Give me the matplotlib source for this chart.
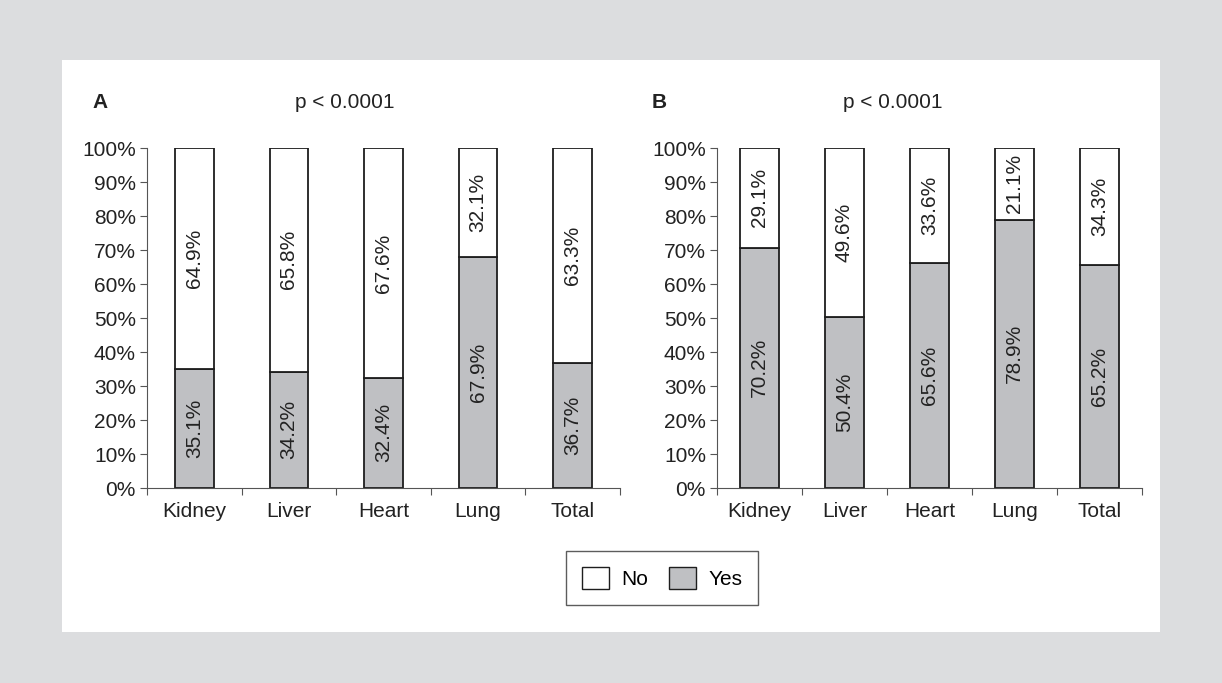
import matplotlib.pyplot as plt
from matplotlib.patches import Rectangle, Patch

plt.rcParams['font.family'] = ['Liberation Sans', 'DejaVu Sans']

# data
organs = ["Kidney", "Liver", "Heart", "Lung", "Total"]
yes_A = [35.1, 34.2, 32.4, 67.9, 36.7]
no_A = [64.9, 65.8, 67.6, 32.1, 63.3]
yes_B = [70.2, 50.4, 65.6, 78.9, 65.2]
no_B = [29.1, 49.6, 33.6, 21.1, 34.3]
p_text = "p < 0.0001"

gray = '#bfc0c3'
edge = '#1e1e1e'
fs = 15

fig = plt.figure(figsize=(12.22, 6.83), dpi=100, facecolor='#dcdddf')
# white panel
fig.patches.append(Rectangle((62/1222, 1-632/683), (1160-62)/1222, (632-60)/683,
                             transform=fig.transFigure, facecolor='white',
                             edgecolor='none', zorder=-5))

def panel(rect, yes, no, width, letter, letter_x, p_x):
    ax = fig.add_axes(rect)
    ax.set_facecolor('none')
    x = list(range(len(organs)))
    # 100% stacked: scale each column to its total
    y_share = [100 * y / (y + n) for y, n in zip(yes, no)]
    n_share = [100 - v for v in y_share]
    ax.bar(x, y_share, width=width, color=gray, edgecolor=edge, linewidth=1.3)
    ax.bar(x, n_share, bottom=y_share, width=width, color='white', edgecolor=edge, linewidth=1.3)
    for i in x:
        ax.text(i, y_share[i] / 2, f"{yes[i]:.1f}%", rotation=90, ha='center',
                va='center', fontsize=fs, color='#222')
        ax.text(i, y_share[i] + n_share[i] / 2, f"{no[i]:.1f}%", rotation=90,
                ha='center', va='center', fontsize=fs, color='#222')
    ax.set_xlim(-0.5, len(organs) - 0.5)
    ax.set_ylim(0, 100)
    ax.set_yticks(range(0, 101, 10))
    ax.set_yticklabels([f"{v}%" for v in range(0, 101, 10)], fontsize=fs, color='#222')
    ax.set_xticks([i - 0.5 for i in range(len(organs) + 1)])
    ax.set_xticklabels([])
    ax.set_xticks(x, minor=True)
    ax.set_xticklabels(organs, minor=True, fontsize=fs, color='#222')
    ax.tick_params(axis='x', which='minor', length=0, pad=10)
    ax.tick_params(axis='x', which='major', length=5, color='#555')
    ax.tick_params(axis='y', length=5, color='#555', pad=3)
    for s in ['top', 'right']:
        ax.spines[s].set_visible(False)
    for s in ['left', 'bottom']:
        ax.spines[s].set_color('#555')
    fig.text(letter_x / 1222, 1 - 102 / 683, letter, fontsize=fs, fontweight='bold',
             ha='left', va='center', color='#222')
    fig.text(p_x / 1222, 1 - 102 / 683, p_text, fontsize=fs, ha='center',
             va='center', color='#222')
    return ax

panel([147/1222, 1-488/683, 473/1222, 340/683], yes_A, no_A, 0.41, "A", 92, 345)
panel([717/1222, 1-488/683, 425/1222, 340/683], yes_B, no_B, 0.45, "B", 652, 893)

handles = [Patch(facecolor='white', edgecolor=edge, label='No'),
           Patch(facecolor=gray, edgecolor=edge, label='Yes')]
leg = fig.legend(handles=handles, loc='center', bbox_to_anchor=(662/1222, 1-578/683),
                 ncol=2, fontsize=fs, frameon=True, fancybox=False,
                 handlelength=1.3, handleheight=1.3, columnspacing=1.0,
                 borderpad=0.75, handletextpad=0.6, borderaxespad=0)
leg.get_frame().set_edgecolor('#333')
leg.get_frame().set_linewidth(1.0)

fig.savefig('out.png', dpi=100, facecolor=fig.get_facecolor())
